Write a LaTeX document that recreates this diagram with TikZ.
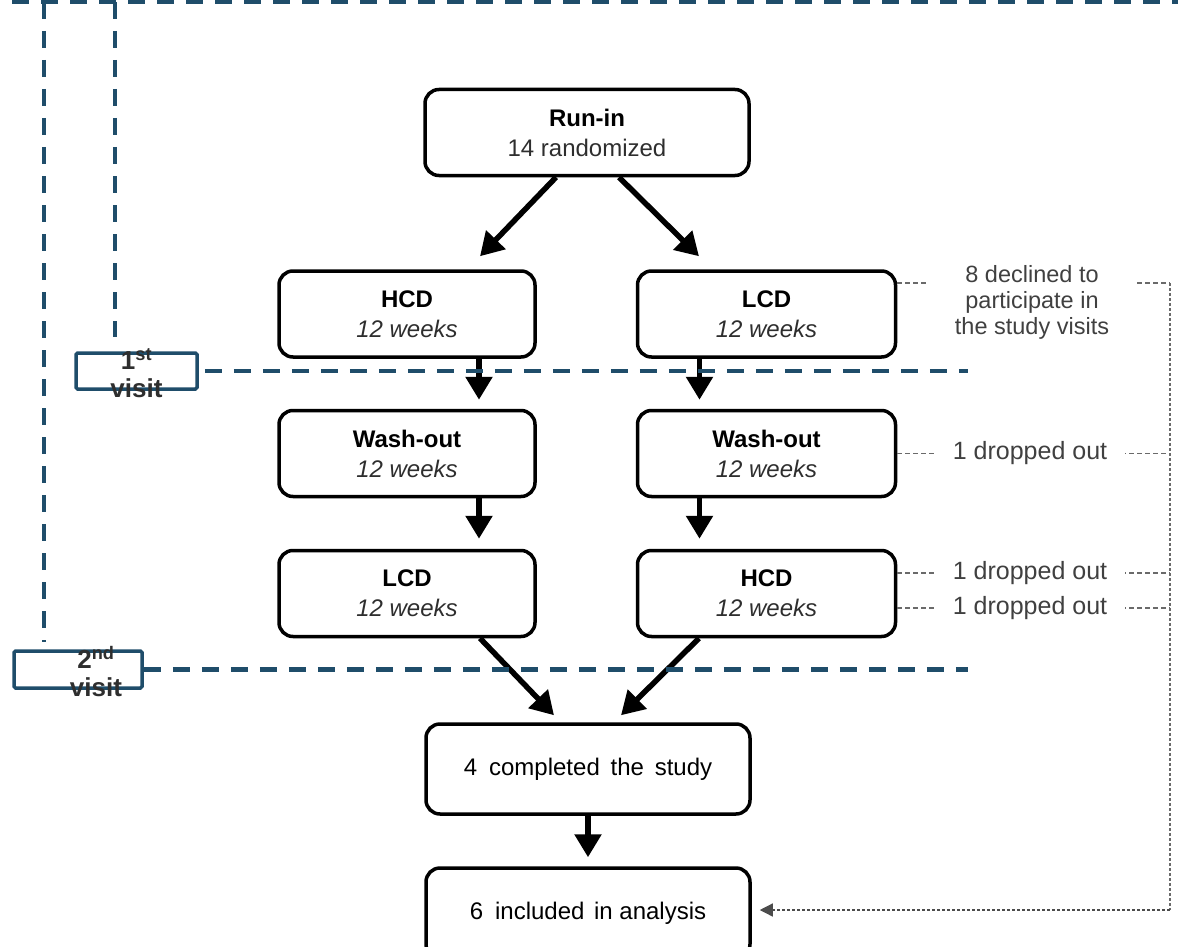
\documentclass[tikz,border=0pt]{standalone}
\usepackage{fontspec}
\setmainfont{Liberation Sans}
\usetikzlibrary{arrows.meta}

\definecolor{visitblue}{HTML}{1F4D6A}
\definecolor{notegray}{HTML}{404040}
\definecolor{weekgray}{HTML}{2E2E2E}
\definecolor{railgray}{HTML}{6A6A6A}

\newcommand{\boxfont}{\fontsize{24}{30}\selectfont}
\newcommand{\notefont}{\fontsize{23.5}{26}\selectfont}
\newcommand{\dropfont}{\fontsize{25}{26}\selectfont}
\newcommand{\visitfont}{\fontsize{26}{28}\selectfont\bfseries}
\newcommand{\weeks}{\textcolor{weekgray}{\itshape 12 weeks}}

\tikzset{
  stagebox/.style={draw,line width=3.5pt,rounded corners=14pt,align=center,
    font=\boxfont,minimum width=256pt,minimum height=86pt,inner sep=0pt},
  visitbox/.style={draw=visitblue,line width=3.5pt,rounded corners=1.5pt,inner sep=0pt},
  visittext/.style={align=center,font=\visitfont,text=weekgray,inner sep=0pt},
  visitline/.style={visitblue,line width=4.5pt,dash pattern=on 17pt off 12pt},
  flowarrow/.style={line width=5.5pt,-{Triangle[length=23pt,width=26pt]}},
  sideline/.style={railgray,line width=1.3pt,dash pattern=on 5pt off 3pt},
  railline/.style={railgray,line width=1.3pt,dash pattern=on 3pt off 2pt},
  sidenote/.style={fill=white,text=notegray,font=\notefont,align=center,
    inner xsep=18pt,inner ysep=2pt}
}

\begin{document}
\begin{tikzpicture}[x=1pt,y=-1pt]
   \useasboundingbox (0,0) rectangle (1178,947);
   % stages of the crossover
   \node[stagebox,minimum width=324pt] (runin) at (587,132.5)
      {\textbf{Run-in}\\\textcolor{weekgray}{14 randomized}};
   \node[stagebox] (hcdA) at (407,314) {\textbf{HCD}\\\weeks};
   \node[stagebox,minimum width=258pt] (lcdA) at (766.5,314) {\textbf{LCD}\\\weeks};
   \node[stagebox] (washA) at (407,453.5) {\textbf{Wash-out}\\\weeks};
   \node[stagebox,minimum width=258pt] (washB) at (766.5,453.5) {\textbf{Wash-out}\\\weeks};
   \node[stagebox] (lcdB) at (407,593.5) {\textbf{LCD}\\\weeks};
   \node[stagebox,minimum width=258pt] (hcdB) at (766.5,593.5) {\textbf{HCD}\\\weeks};
   \node[stagebox,minimum width=324pt,minimum height=90pt] (done) at (588,769)
      {4\hspace{0.5em}completed\hspace{0.45em}the\hspace{0.45em}study};
   \node[stagebox,minimum width=324pt,minimum height=90pt] (incl) at (588,913)
      {6\hspace{0.5em}included\hspace{0.4em}in analysis};

   % flow arrows
   \draw[flowarrow] ([xshift=-31pt]runin.south) -- ([xshift=73pt,yshift=13pt]hcdA.north);
   \draw[flowarrow] ([xshift=32pt]runin.south) -- ([xshift=-67.5pt,yshift=13pt]lcdA.north);
   \draw[flowarrow] ([xshift=72pt]hcdA.south) -- ([xshift=72pt,yshift=9pt]washA.north);
   \draw[flowarrow] ([xshift=-67pt]lcdA.south) -- ([xshift=-67pt,yshift=9pt]washB.north);
   \draw[flowarrow] ([xshift=72pt]washA.south) -- ([xshift=72pt,yshift=10pt]lcdB.north);
   \draw[flowarrow] ([xshift=-67pt]washB.south) -- ([xshift=-67pt,yshift=10pt]hcdB.north);
   \draw[flowarrow] ([xshift=73pt]lcdB.south) -- ([xshift=-34pt,yshift=7pt]done.north);
   \draw[flowarrow] ([xshift=-67.5pt]hcdB.south) -- ([xshift=33pt,yshift=7pt]done.north);
   \draw[flowarrow] (done.south) -- ([yshift=9pt]incl.north);

   % visits
   \coordinate (topL) at (12,2);
   \coordinate (topR) at (1178,2);
   \coordinate (railA) at (44,2);
   \coordinate (railAend) at (44,642);
   \coordinate (railB) at (115,2);
   \coordinate (railBend) at (115,337);
   \coordinate (visit1end) at (968,371);
   \coordinate (visit2end) at (968,669.5);
   \draw[visitline] (topL) -- (topR);
   \draw[visitline] (railA) -- (railAend);
   \draw[visitline] (railB) -- (railBend);
   \node[visitbox,minimum width=121pt,minimum height=36pt] (visit1) at (136.5,371) {};
   \node[visitbox,minimum width=128pt,minimum height=37pt] (visit2) at (78,669.5) {};
   \draw[visitline,shorten <=6pt] (visit1.east) -- (visit1end);
   \draw[visitline] (visit2.east) -- (visit2end);
   \node[visittext] (visit1txt) at ([yshift=-2pt]visit1.center) {1\textsuperscript{st}\\visit};
   \node[visittext] (visit2txt) at ([xshift=18pt,yshift=-2pt]visit2.center) {2\textsuperscript{nd}\\visit};

   % losses to the right
   \coordinate (rail1) at (1170,283);
   \coordinate (rail2) at (1170,453.5);
   \coordinate (rail3) at (1170,573);
   \coordinate (rail4) at (1170,608);
   \coordinate (railEnd) at (1170,910);
   \draw[sideline] ([yshift=31pt]lcdA.east) -- (rail1);
   \draw[sideline] (washB.east) -- (rail2);
   \draw[sideline] ([yshift=20.5pt]hcdB.east) -- (rail3);
   \draw[sideline] ([yshift=-14.5pt]hcdB.east) -- (rail4);
   \draw[railline] (rail1) -- (railEnd);
   \draw[railline,-{Triangle[length=13pt,width=13pt]},black!70] (railEnd) -- ([xshift=8pt,yshift=3pt]incl.east);
   \node[sidenote,inner xsep=26pt] (declined) at (1032,302)
      {8 declined to\\participate in\\the study visits};
   \node[sidenote,font=\dropfont] (drop1) at (1030,453.5) {1 dropped out};
   \node[sidenote,font=\dropfont] (drop2) at (1030,573) {1 dropped out};
   \node[sidenote,font=\dropfont] (drop3) at (1030,608) {1 dropped out};
\end{tikzpicture}
\end{document}
